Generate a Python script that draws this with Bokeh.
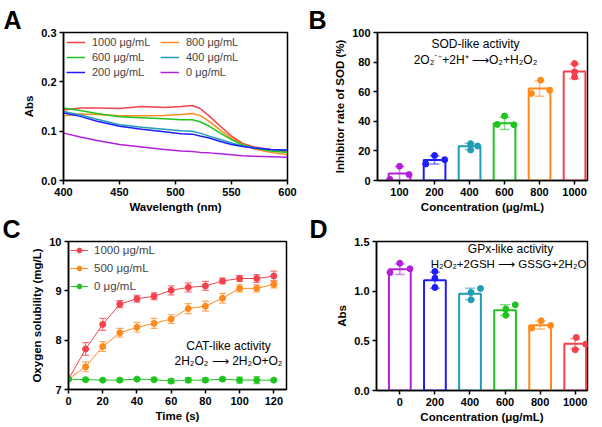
from bokeh.plotting import figure
from bokeh.layouts import row, column
from bokeh.models import Label, Legend, LegendItem, FixedTicker, Range1d, PrintfTickFormatter
from bokeh.embed import file_html
from bokeh.resources import INLINE

# ---------------- data ----------------
# Panel A: UV-vis spectra
wavelength = [400, 415, 430, 450, 470, 490, 505, 515, 522, 530, 540, 550, 560, 570, 585, 600]
abs_1000 = [0.143, 0.147, 0.147, 0.146, 0.150, 0.148, 0.150, 0.152, 0.146, 0.131, 0.110, 0.090, 0.075, 0.068, 0.063, 0.058]
abs_800 = [0.131, 0.135, 0.134, 0.131, 0.131, 0.132, 0.134, 0.136, 0.132, 0.120, 0.102, 0.086, 0.073, 0.064, 0.057, 0.052]
abs_600 = [0.147, 0.142, 0.136, 0.129, 0.127, 0.125, 0.123, 0.123, 0.119, 0.110, 0.096, 0.083, 0.072, 0.066, 0.060, 0.057]
abs_400 = [0.140, 0.133, 0.124, 0.113, 0.108, 0.104, 0.101, 0.100, 0.096, 0.090, 0.083, 0.076, 0.070, 0.066, 0.063, 0.061]
abs_200 = [0.137, 0.130, 0.120, 0.110, 0.104, 0.099, 0.095, 0.094, 0.090, 0.086, 0.079, 0.073, 0.069, 0.066, 0.063, 0.062]
abs_0 = [0.096, 0.088, 0.081, 0.073, 0.068, 0.063, 0.060, 0.059, 0.057, 0.056, 0.054, 0.052, 0.050, 0.049, 0.048, 0.047]
a_labels = ["1000 μg/mL", "800 μg/mL", "600 μg/mL", "400 μg/mL", "200 μg/mL", "0 μg/mL"]

# Panel B: SOD-like activity
b_cats = ["100", "200", "400", "600", "800", "1000"]
b_mean = [4.7, 13.9, 23.1, 38.6, 62.1, 73.7]
b_sd = [4.8, 2.8, 2.1, 4.2, 5.1, 5.0]
b_dots = [[0.8, 9.6, 4.0], [11.2, 16.9, 14.1], [24.9, 20.6, 23.3],
          [37.9, 43.6, 37.6], [58.8, 67.8, 61.0], [79.0, 73.4, 70.0]]

# Panel C: CAT-like activity
time_s = [0, 10, 20, 30, 40, 50, 60, 70, 80, 90, 100, 110, 120]
c_1000 = [7.21, 7.82, 8.32, 8.73, 8.84, 8.89, 9.01, 9.07, 9.10, 9.20, 9.25, 9.25, 9.30]
c_1000_err = [0.0, 0.13, 0.12, 0.07, 0.07, 0.07, 0.09, 0.09, 0.09, 0.06, 0.06, 0.08, 0.10]
c_500 = [7.21, 7.46, 7.87, 8.15, 8.26, 8.34, 8.43, 8.64, 8.69, 8.85, 9.05, 9.05, 9.13]
c_500_err = [0.0, 0.10, 0.10, 0.09, 0.10, 0.10, 0.09, 0.10, 0.10, 0.10, 0.07, 0.07, 0.07]
c_0 = [7.21, 7.20, 7.19, 7.19, 7.21, 7.20, 7.17, 7.19, 7.19, 7.21, 7.19, 7.19, 7.19]
c_0_err = [0.0, 0.02, 0.01, 0.03, 0.02, 0.03, 0.04, 0.05, 0.04, 0.03, 0.06, 0.07, 0.02]
c_labels = ["1000 μg/mL", "500 μg/mL", "0 μg/mL"]

# Panel D: GPx-like activity
d_cats = ["0", "200", "400", "600", "800", "1000"]
d_mean = [1.221, 1.110, 0.973, 0.809, 0.658, 0.470]
d_sd = [0.053, 0.080, 0.057, 0.053, 0.040, 0.050]
d_dots = [[1.188, 1.281, 1.225], [1.131, 1.198, 1.037], [0.913, 0.987, 1.027],
          [0.758, 0.819, 0.862], [0.628, 0.702, 0.654], [0.410, 0.534, 0.466]]

# ---------------- styles ----------------
RED, ORANGE, GREEN, TEAL, BLUE, PURPLE = "#f5414c", "#ff8a1c", "#1fc41f", "#1e9db5", "#1d1dff", "#b31fdc"
a_colors = [RED, ORANGE, GREEN, TEAL, BLUE, PURPLE]
b_colors = [PURPLE, BLUE, TEAL, GREEN, ORANGE, RED]
d_colors = [PURPLE, BLUE, TEAL, GREEN, ORANGE, RED]
c_colors = [RED, ORANGE, GREEN]
a_legend_order = [0, 2, 4, 1, 3, 5]   # column-major fill of a 2-column legend
b_jitter = [[-0.28, 0.0, 0.27], [-0.25, 0.0, 0.29], [0.03, 0.03, 0.23],
            [-0.21, 0.0, 0.27], [-0.23, 0.03, 0.29], [0.0, 0.0, 0.0]]
d_jitter = [[-0.28, 0.0, 0.29], [0.0, 0.0, 0.0], [0.03, 0.03, 0.3],
            [0.02, 0.02, 0.29], [-0.24, 0.03, 0.3], [0.0, 0.03, 0.3]]
FONT = "Liberation Sans"


def make_fig(xr, yr, fw, fh, left, right, top, bottom, letter, letter_offset):
    p = figure(x_range=xr, y_range=yr, frame_width=fw, frame_height=fh,
               min_border_left=left, min_border_right=right, min_border_top=top,
               min_border_bottom=bottom, output_backend="svg", toolbar_location=None,
               title=letter)
    p.title.text_font = FONT
    p.title.text_font_style = "bold"
    p.title.text_font_size = "25px"
    p.title.text_color = "black"
    p.title.align = "left"
    p.title.vertical_align = "top"
    p.title.offset = letter_offset
    p.title.standoff = -7
    p.xgrid.visible = False
    p.ygrid.visible = False
    p.outline_line_color = "black"
    p.outline_line_width = 1.5
    p.outline_line_alpha = 1
    p.background_fill_color = "white"
    for ax in p.axis:
        ax.axis_line_width = 1.5
        ax.axis_line_color = "black"
        ax.major_tick_line_width = 1.5
        ax.major_tick_line_color = "black"
        ax.major_tick_out = 4
        ax.major_tick_in = 0
        ax.minor_tick_line_color = None
        ax.major_label_text_font = FONT
        ax.major_label_text_font_style = "bold"
        ax.major_label_text_font_size = "11px"
        ax.major_label_text_color = "black"
        ax.major_label_standoff = 3
        ax.axis_label_text_font = FONT
        ax.axis_label_text_font_style = "bold"
        ax.axis_label_text_font_size = "11.5px"
        ax.axis_label_text_color = "black"
        ax.axis_label_standoff = 3
    for ax in p.xaxis:
        ax.axis_label_standoff = 2
    return p


def note(p, txt, x, y, size="12px"):
    p.add_layout(Label(x=x, y=y, x_units="screen", y_units="screen", text=txt,
                       text_font=FONT, text_font_size=size, text_color="black",
                       text_align="center", text_baseline="middle", level="overlay"))


# ---------------- Panel A ----------------
pa = make_fig(Range1d(400, 600), Range1d(0, 0.3), 224, 148, 63, 13, 31, 36, "A", -60)
pa.xaxis.ticker = FixedTicker(ticks=[400, 450, 500, 550, 600])
pa.yaxis.ticker = FixedTicker(ticks=[0, 0.1, 0.2, 0.3])
pa.yaxis.formatter = PrintfTickFormatter(format="%.1f")
pa.xaxis.axis_label = "Wavelength (nm)"
pa.yaxis.axis_label = "Abs"
a_series = [abs_1000, abs_800, abs_600, abs_400, abs_200, abs_0]
a_items = []
for lab, ys, col in zip(a_labels, a_series, a_colors):
    r = pa.line(wavelength, ys, line_color=col, line_width=1.5)
    a_items.append(LegendItem(label=lab, renderers=[r]))
leg_a = Legend(items=[a_items[k] for k in a_legend_order], ncols=2, location="top_left",
               border_line_color=None, background_fill_alpha=0, label_text_font=FONT,
               label_text_font_size="11px", glyph_width=19, glyph_height=12, label_height=14,
               label_width=67, spacing=1, padding=4, margin=3, label_standoff=7)
pa.add_layout(leg_a)

# ---------------- Panel B ----------------
b_pos = list(range(1, len(b_cats) + 1))
pb = make_fig(Range1d(0.37, 6.37), Range1d(0, 100), 210, 148, 77, 13, 32, 35, "B", -69)
pb.xaxis.ticker = FixedTicker(ticks=b_pos)
pb.xaxis.major_label_overrides = {i: c for i, c in zip(b_pos, b_cats)}
pb.yaxis.ticker = FixedTicker(ticks=[0, 20, 40, 60, 80, 100])
pb.xaxis.axis_label = "Concentration (μg/mL)"
pb.yaxis.axis_label = "Inhibitor rate of SOD (%)"
pb.vbar(x=b_pos, top=b_mean, bottom=0, width=0.62, fill_color="white",
        line_color=b_colors, line_width=2)
for i, (m, s, col) in enumerate(zip(b_mean, b_sd, b_colors)):
    x = b_pos[i]
    pb.segment(x0=[x], y0=[m - s], x1=[x], y1=[m + s], line_color=col, line_alpha=0.55, line_width=1.5)
    pb.scatter(x=[x, x], y=[m - s, m + s], marker="dash", size=10, line_color=col,
               line_alpha=0.55, line_width=1.5)
    pb.scatter(x=[x + j for j in b_jitter[i]], y=b_dots[i], size=6, fill_color=col, line_color=col)
note(pb, "SOD-like activity", 98, 137)
note(pb, "2O₂˙⁻+2H⁺ ⟶O₂+H₂O₂", 98, 121)

# ---------------- Panel C ----------------
pc = make_fig(Range1d(0, 127.4), Range1d(7, 10), 218, 148, 68, 14, 26, 37, "C", -66)
pc.xaxis.ticker = FixedTicker(ticks=[0, 20, 40, 60, 80, 100, 120])
pc.yaxis.ticker = FixedTicker(ticks=[7, 8, 9, 10])
pc.xaxis.axis_label = "Time (s)"
pc.yaxis.axis_label = "Oxygen solubility (mg/L)"
c_items = []
for lab, ys, es, col in zip(c_labels, [c_1000, c_500, c_0], [c_1000_err, c_500_err, c_0_err], c_colors):
    lo = [y - e for y, e in zip(ys, es)]
    hi = [y + e for y, e in zip(ys, es)]
    pc.segment(x0=time_s, y0=lo, x1=time_s, y1=hi, line_color=col, line_alpha=0.7, line_width=1.2)
    pc.scatter(x=time_s + time_s, y=lo + hi, marker="dash", size=7, line_color=col,
               line_alpha=0.7, line_width=1.2)
    rl = pc.line(time_s, ys, line_color=col, line_width=1)
    rs = pc.scatter(time_s, ys, size=6, fill_color=col, line_color=col)
    c_items.append(LegendItem(label=lab, renderers=[rl, rs]))
leg_c = Legend(items=c_items, location="top_left", border_line_color=None,
               background_fill_alpha=0, label_text_font=FONT, label_text_font_size="11.5px",
               glyph_width=18, glyph_height=12, label_height=14, spacing=4, padding=4,
               margin=2, label_standoff=6)
pc.add_layout(leg_c)
note(pc, "CAT-like activity", 160, 44)
note(pc, "2H₂O₂ ⟶ 2H₂O+O₂", 160, 29)

# ---------------- Panel D ----------------
d_pos = list(range(1, len(d_cats) + 1))
pd_ = make_fig(Range1d(0.335, 6.35), Range1d(0, 1.5), 211, 149, 76, 13, 25, 37, "D", -67)
pd_.xaxis.ticker = FixedTicker(ticks=d_pos)
pd_.xaxis.major_label_overrides = {i: c for i, c in zip(d_pos, d_cats)}
pd_.yaxis.ticker = FixedTicker(ticks=[0, 0.5, 1.0, 1.5])
pd_.yaxis.formatter = PrintfTickFormatter(format="%.1f")
pd_.xaxis.axis_label = "Concentration (μg/mL)"
pd_.yaxis.axis_label = "Abs"
pd_.vbar(x=d_pos, top=d_mean, bottom=0, width=0.62, fill_color="white",
         line_color=d_colors, line_width=2)
for i, (m, s, col) in enumerate(zip(d_mean, d_sd, d_colors)):
    x = d_pos[i]
    pd_.segment(x0=[x], y0=[m - s], x1=[x], y1=[m + s], line_color=col, line_alpha=0.55, line_width=1.5)
    pd_.scatter(x=[x, x], y=[m - s, m + s], marker="dash", size=10, line_color=col,
                line_alpha=0.55, line_width=1.5)
    pd_.scatter(x=[x + j for j in d_jitter[i]], y=d_dots[i], size=6, fill_color=col, line_color=col)
note(pd_, "GPx-like activity", 134, 142)
note(pd_, "H₂O₂+2GSH ⟶ GSSG+2H₂O", 132, 127, "11.5px")

layout = column(row(pa, pb), row(pc, pd_))
open("out.html", "w").write(file_html(layout, INLINE))
